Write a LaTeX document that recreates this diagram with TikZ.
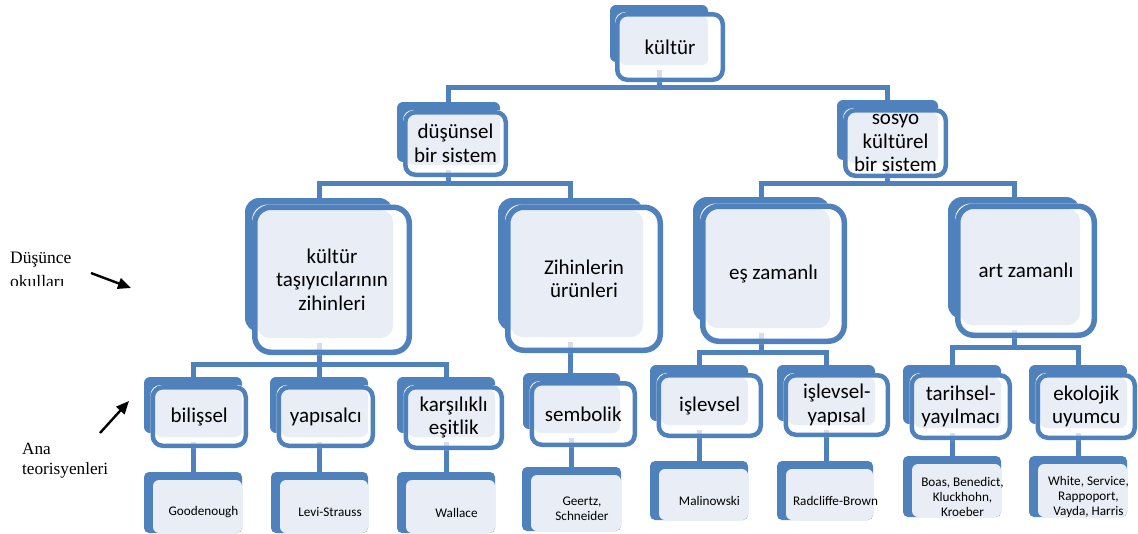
\documentclass[tikz,border=0pt]{standalone}
\usepackage{fontspec}
\setmainfont{Liberation Serif}
\newfontfamily\calib{Carlito}
\usetikzlibrary{arrows.meta}
\definecolor{smblue}{RGB}{79,129,189}
\definecolor{smlight}{RGB}{233,237,245}
\definecolor{smstub}{RGB}{214,222,236}
\pgfdeclarelayer{bg}
\pgfsetlayers{bg,main}

% frame parameters (changed per tier)
\def\ox{5}\def\oy{7}\def\lwo{4.5}\def\ly{3}
\def\rback{6}\def\rfront{10}\def\rlight{6}

\tikzset{
  backbox/.style={fill=smblue, draw=none, rounded corners=\rback pt, inner sep=0pt, outer sep=0pt, anchor=north west},
  leafback/.style={fill=smblue, draw=none, rounded corners=5pt, inner sep=0pt, outer sep=0pt, anchor=north west},
  leaflight/.style={fill=smlight, rounded corners=6pt},
  lightfill/.style={fill=smlight, rounded corners=\rlight pt},
  whitefill/.style={fill=white, rounded corners=\rfront pt},
  frontline/.style={draw=smblue, line width=\lwo pt, rounded corners=\rfront pt},
  stubline/.style={draw=smstub, line width=5pt},
  link/.style={draw=smblue, line width=5pt},
  boxtext/.style={font=\calib\fontsize{21}{23.5}\selectfont, align=center, inner sep=0pt, text=black},
  leaftext/.style={font=\calib\fontsize{13.2}{15}\selectfont, align=center, inner sep=0pt, text=black},
  sidelabel/.style={align=left, inner sep=0pt, anchor=base west},
  pointer/.style={line width=2.4pt, -{Triangle[length=13pt,width=11pt]}},
}

% #1 name, #2-#5 back plate (x0,y0,x1,y1), #6-#7 lower right corner of the frame, #8 text
\newcommand\tierbox[8]{%
  \node[backbox, minimum width={#4-#2}, minimum height={#5-#3}] (#1) at (#2,#3) {};
  \fill[whitefill] ({#2+\ox},{#3+\oy}) rectangle (#6,#7);
  \fill[lightfill] ({#2+\ox+\lwo},{#3+\oy+\lwo}) rectangle (#4,{#5+\ly});
  \draw[stubline] ({(#2+#4)/2},{#5+\ly+5}) -- ({(#2+#4)/2},{#7-\lwo});
  \draw[frontline] ({#2+\ox+\lwo/2},{#3+\oy+\lwo/2}) rectangle ({#6-\lwo/2},{#7-\lwo/2});
  \node[boxtext] (#1-t) at ({(#2+\ox+#6)/2},{(#3+\oy+#7)/2}) {#8};
}

% #1 name, #2-#5 back plate, #6 text
\newcommand\leafbox[6]{%
  \node[leafback, minimum width={#4-#2}, minimum height={#5-#3}] (#1) at (#2,#3) {};
  \fill[leaflight] ({#2+9},{#3+8}) rectangle (#4,#5);
  \node[leaftext] (#1-t) at ({(#2+9+#4)/2+6},{(#3+8+#5)/2+6}) {#6};
}

\begin{document}
\begin{tikzpicture}[x=1pt, y=-1pt]
\clip (0,0) rectangle (1138,533);

% tier 1
\tierbox{kul}{610}{5}{708}{62}{725}{82}{kültür}

% tier 2
\begin{scope}
\def\ox{6}\def\oy{8}
\tierbox{dus}{397}{102}{500}{162}{508}{177}{düşünsel\\bir sistem}
\tierbox{sos}{837}{100}{938}{160}{948}{178}{sosyo\\kültürel\\bir sistem}
\end{scope}

% tier 3
\begin{scope}
\def\ox{7}\def\oy{6.5}\def\lwo{5.5}\def\ly{6}
\def\rback{14}\def\rfront{16}\def\rlight{12}
\tierbox{kt}{245}{198}{393}{332}{412}{355}{kültür\\taşıyıcılarının\\zihinleri}
\tierbox{zih}{498}{198}{643}{331}{663}{353}{Zihinlerin\\ürünleri}
\tierbox{es}{693}{197}{830}{322}{847}{344}{eş zamanlı}
\tierbox{art}{948}{197}{1080}{319}{1097}{338}{art zamanlı}
\end{scope}

% tier 4
\begin{scope}
\def\ox{6.5}\def\oy{8}\def\ly{4}\def\rlight{7}
\tierbox{bil}{144}{377}{242}{433}{248}{448}{bilişsel}
\tierbox{yap}{270}{377}{368}{433}{375}{448}{yapısalcı}
\tierbox{kar}{397}{377}{495}{433}{504}{450}{karşılıklı\\eşitlik}
\tierbox{sem}{523}{373}{620}{429}{637}{447}{sembolik}
\tierbox{isl}{650}{365}{748}{421}{763}{438}{işlevsel}
\tierbox{isy}{777}{365}{875}{421}{890}{437}{işlevsel-\\yapısal}
\tierbox{tar}{903}{365}{1001}{424}{1012}{440}{tarihsel-\\yayılmacı}
\tierbox{eko}{1029}{365}{1127}{424}{1137}{440}{ekolojik\\uyumcu}
\end{scope}

% theorists
\leafbox{good}{144}{472}{242}{533}{Goodenough}
\leafbox{levi}{271}{472}{368}{533}{Levi-Strauss}
\leafbox{wal}{397}{472}{495}{533}{Wallace}
\leafbox{gee}{522}{467}{621}{531}{Geertz,\\Schneider}
\leafbox{mal}{650}{461}{748}{520}{Malinowski}
\leafbox{rad}{777}{461}{873}{520}{Radcliffe-Brown}
\leafbox{boa}{903}{456}{1001}{517}{Boas, Benedict,\\Kluckhohn,\\Kroeber}
\leafbox{whi}{1029}{456}{1127}{517}{White, Service,\\Rappoport,\\Vayda, Harris}

% connectors
\begin{pgfonlayer}{bg}
\coordinate (bar1) at (0,87);
\coordinate (bar2) at (0,183);
\coordinate (bar3a) at (0,364);
\coordinate (bar3c) at (0,352);
\coordinate (bar3d) at (0,347);
\draw[link] (kul.south) -- (kul.south |- bar1) -| (dus.north);
\draw[link] (kul.south |- bar1) -| (sos.north);
\draw[link] (dus.south) -- (dus.south |- bar2) -| (kt.north);
\draw[link] (dus.south |- bar2) -| (zih.north);
\draw[link] (sos.south) -- (sos.south |- bar2) -| (es.north);
\draw[link] (sos.south |- bar2) -| (art.north);
\draw[link] (kt.south) -- (kt.south |- bar3a) -| (bil.north);
\draw[link] (kt.south |- bar3a) -| (kar.north);
\draw[link] (kt.south |- bar3a) -- (yap.north);
\draw[link] (zih.south) -- (zih.south |- sem.north);
\draw[link] (es.south) -- (es.south |- bar3c) -| (isl.north);
\draw[link] (es.south |- bar3c) -| (isy.north);
\draw[link] (art.south) -- (art.south |- bar3d) -| (tar.north);
\draw[link] (art.south |- bar3d) -| (eko.north);
\draw[link] (bil.south) -- (bil.south |- good.north);
\draw[link] (yap.south) -- (yap.south |- levi.north);
\draw[link] (kar.south) -- (kar.south |- wal.north);
\draw[link] (sem.south) -- (sem.south |- gee.north);
\draw[link] (isl.south) -- (isl.south |- mal.north);
\draw[link] (isy.south) -- (isy.south |- rad.north);
\draw[link] (tar.south) -- (tar.south |- boa.north);
\draw[link] (eko.south) -- (eko.south |- whi.north);
\end{pgfonlayer}

% side labels (base anchor sits on the last line)
\begin{scope}
\clip (0,0) rectangle (150,285);
\node[sidelabel, font=\fontsize{17.5}{24}\selectfont] (schools) at (10,287) {Düşünce\\okulları};
\end{scope}
\node[sidelabel, font=\fontsize{17.2}{20}\selectfont] (theorists) at (22,474) {Ana\\teorisyenleri};
\coordinate (p1s) at (91,273);
\coordinate (p1e) at (131,288);
\coordinate (p2s) at (100,433);
\coordinate (p2e) at (129,401);
\draw[pointer] (p1s) -- (p1e);
\draw[pointer] (p2s) -- (p2e);
\end{tikzpicture}
\end{document}
